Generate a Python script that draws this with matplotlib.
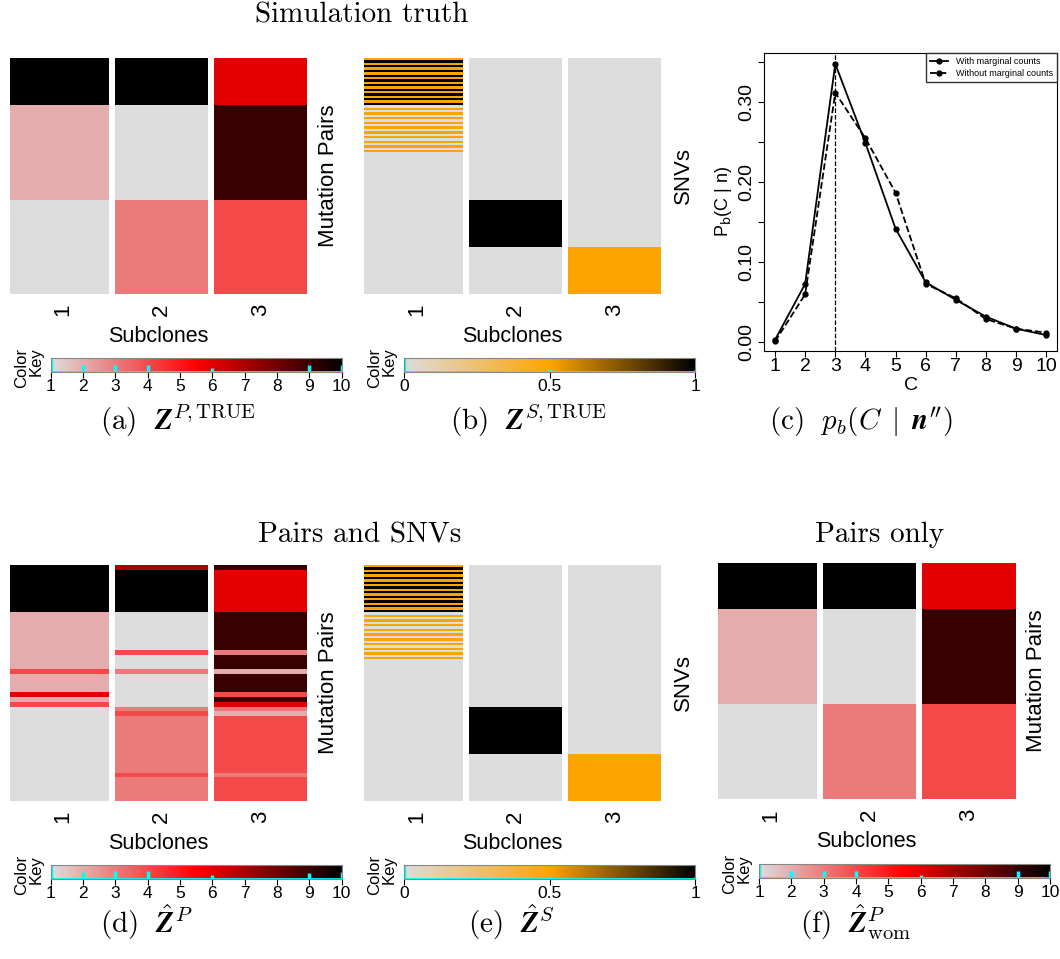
import numpy as np
import matplotlib
matplotlib.use('Agg')
import matplotlib.pyplot as plt
from matplotlib.colors import LinearSegmentedColormap

plt.rcParams['font.family'] = ['Liberation Sans', 'DejaVu Sans']
plt.rcParams['mathtext.fontset'] = 'cm'

W, H = 1060, 959

# --- mutation-pair matrices, one list per subclone (rows top to bottom) ---
zp_true_1 = [10] * 10 + [2] * 20 + [1] * 20
zp_true_2 = [10] * 10 + [1] * 20 + [3] * 20
zp_true_3 = [6] * 10 + [9] * 20 + [4] * 20

zp_hat_1 = [10] * 10 + [2] * 12 + [4] + [2] * 4 + [6, 2, 4] + [1] * 20
zp_hat_2 = [7] + [10] * 9 + [1] * 8 + [4] + [1] * 3 + [3] + [1] * 7 + [3, 4] + [3] * 12 + [4] + [3] * 5
zp_hat_3 = [9] + [6] * 9 + [9] * 8 + [3] + [9] * 3 + [2] + [9] * 4 + [4, 9, 6] + [3, 2] + [4] * 12 + [3] + [4] * 5

zp_wom_1 = [10] * 10 + [2] * 20 + [1] * 20
zp_wom_2 = [10] * 10 + [1] * 20 + [3] * 20
zp_wom_3 = [6] * 10 + [9] * 20 + [4] * 20

# --- SNV matrices ---
snv_stripe_a = [0.5, 1, 0.5, 1, 0.5, 1, 0.5, 1, 0.5, 1, 0.5, 1, 0.5, 1, 0.5, 1, 0.5, 1, 0.5, 1]
snv_stripe_b = [0, 0.5, 0, 0.5, 0, 0.5, 0, 0.5, 0, 0.5, 0, 0.5, 0, 0.5, 0, 0.5, 0, 0.5, 0, 0.5]
zs_true_1 = snv_stripe_a + snv_stripe_b + [0] * 60
zs_true_2 = [0] * 60 + [1] * 20 + [0] * 20
zs_true_3 = [0] * 80 + [0.5] * 20

zs_hat_1 = snv_stripe_a + snv_stripe_b + [0] * 60
zs_hat_2 = [0] * 60 + [1] * 20 + [0] * 20
zs_hat_3 = [0] * 80 + [0.5] * 20

# --- posterior of number of subclones C ---
C_vals = [1, 2, 3, 4, 5, 6, 7, 8, 9, 10]
p_with = [0.003, 0.073, 0.348, 0.249, 0.142, 0.075, 0.053, 0.032, 0.017, 0.009]
p_without = [0.001, 0.060, 0.312, 0.255, 0.187, 0.073, 0.055, 0.029, 0.017, 0.012]

subclone_labels = ['1', '2', '3']
pair_ticks = [1, 2, 3, 4, 5, 6, 7, 8, 9, 10]
snv_ticks = [0, 0.5, 1]
snv_ticklabels = ['0', '0.5', '1']

cmap_pairs = LinearSegmentedColormap.from_list('pairs', ['#DDDDDD', '#FF0000', '#000000'])
cmap_snv = LinearSegmentedColormap.from_list('snv', ['#DDDDDD', '#FFA500', '#000000'])

fig = plt.figure(figsize=(W / 100, H / 100), dpi=100)


def px_axes(x0, y0, x1, y1):
    return fig.add_axes([x0 / W, 1 - y1 / H, (x1 - x0) / W, (y1 - y0) / H])


def heatmap(box, cols, cmap, vmin, vmax, side_label):
    x0, y0, x1, y1 = box
    ax = px_axes(x0, y0, x1, y1)
    mat = np.column_stack(cols)
    n = mat.shape[0]
    ax.imshow(mat, cmap=cmap, vmin=vmin, vmax=vmax, aspect='auto',
              interpolation='nearest', extent=(0, 3, n, 0))
    # white separators between subclones
    sep = 6 / ((x1 - x0) / 3)
    for c in (1, 2):
        ax.axvspan(c, c + sep, color='white', lw=0)
    ax.set_xlim(0, 3)
    ax.set_ylim(n, 0)
    ax.set_yticks([])
    ax.set_xticks([0.5 + sep / 2, 1.5 + sep / 2, 2.5 + sep / 2], subclone_labels,
                  rotation=90, fontsize=16)
    ax.tick_params(axis='x', length=0, pad=7)
    for s in ax.spines.values():
        s.set_visible(False)
    ax.set_xlabel('Subclones', fontsize=15.5, labelpad=7)
    fig.text((x1 + 22) / W, 1 - ((y0 + y1) / 2) / H, side_label, rotation=90,
             ha='center', va='center', fontsize=16)
    return ax


def color_key(box, cmap, vmin, vmax, ticks, ticklabels, values):
    x0, y0, x1, y1 = box
    ax = px_axes(x0, y0, x1, y1)
    grad = np.linspace(vmin, vmax, 256)[None, :]
    ax.imshow(grad, cmap=cmap, vmin=vmin, vmax=vmax, aspect='auto',
              extent=(vmin, vmax, 0, 1))
    vals, counts = np.unique(values, return_counts=True)
    ax.vlines(vals, 0, counts / counts.max(), color='cyan', lw=2.5)
    ax.axhline(0, color='cyan', lw=2)
    ax.set_xlim(vmin, vmax)
    ax.set_ylim(0, 1)
    ax.set_yticks([])
    ax.set_xticks(ticks, ticklabels)
    ax.tick_params(axis='x', length=4, pad=1, labelsize=12.5)
    for s in ax.spines.values():
        s.set_color('#888888')
    fig.text((x0 - 22) / W, 1 - ((y0 + y1) / 2 + 3) / H, 'Color\nKey', rotation=90,
             ha='center', va='center', multialignment='right', fontsize=12,
             linespacing=0.95)
    return ax


def caption(x, y, s):
    fig.text(x / W, 1 - y / H, s, ha='left', va='baseline', fontsize=21)


def title(x, y, s):
    fig.text(x / W, 1 - y / H, s, ha='center', va='center', fontsize=21, family='cmr10')


# top row
pairs_true = zp_true_1 + zp_true_2 + zp_true_3
heatmap((10, 57.7, 307, 293.7), [zp_true_1, zp_true_2, zp_true_3], cmap_pairs, 1, 10, 'Mutation Pairs')
color_key((50.7, 357.7, 341.7, 371.7), cmap_pairs, 1, 10, pair_ticks, [str(t) for t in pair_ticks], pairs_true)

snv_true = zs_true_1 + zs_true_2 + zs_true_3
heatmap((364, 57.7, 661, 293.7), [zs_true_1, zs_true_2, zs_true_3], cmap_snv, 0, 1, 'SNVs')
color_key((404.3, 357.7, 695, 371.7), cmap_snv, 0, 1, snv_ticks, snv_ticklabels, snv_true)

# posterior over C
ax = px_axes(764, 52.7, 1057.3, 350.7)
ax.plot(C_vals, p_with, color='black', ls='-', lw=1.3, marker='o', ms=3.5, label='With marginal counts')
ax.plot(C_vals, p_without, color='black', ls='--', lw=1.3, marker='o', ms=3.5, label='Without marginal counts')
ax.axvline(3, color='black', ls='--', lw=0.9)
ax.set_xlim(0.635, 10.365)
ax.set_ylim(-0.0105, 0.362)
ax.set_xticks(C_vals)
yt = [0.0, 0.05, 0.10, 0.15, 0.20, 0.25, 0.30, 0.35]
ax.set_yticks(yt, ['0.00', '', '0.10', '', '0.20', '', '0.30', ''])
ax.tick_params(axis='both', labelsize=14, direction='out', length=4.5)
ax.tick_params(axis='x', pad=1)
ax.tick_params(axis='y', pad=2)
for lab in ax.get_yticklabels():
    lab.set_rotation(90)
    lab.set_va('center')
ax.set_xlabel('C', fontsize=14, labelpad=1)
ax.set_ylabel(r'P$_\mathrm{b}$(C | n)', fontsize=13, labelpad=3, math_fontfamily='dejavusans')
leg = ax.legend(loc='upper right', borderaxespad=0, fancybox=False, edgecolor='#333333',
                fontsize=6.5, handlelength=2.0, framealpha=1, borderpad=0.5, labelspacing=0.3,
                handletextpad=0.8)
leg.get_frame().set_linewidth(1)

# bottom row
pairs_hat = zp_hat_1 + zp_hat_2 + zp_hat_3
heatmap((10, 565, 307, 800.7), [zp_hat_1, zp_hat_2, zp_hat_3], cmap_pairs, 1, 10, 'Mutation Pairs')
color_key((50.7, 865, 341.7, 879), cmap_pairs, 1, 10, pair_ticks, [str(t) for t in pair_ticks], pairs_hat)

snv_hat = zs_hat_1 + zs_hat_2 + zs_hat_3
heatmap((364, 565, 661, 800.7), [zs_hat_1, zs_hat_2, zs_hat_3], cmap_snv, 0, 1, 'SNVs')
color_key((404.3, 865, 695, 879), cmap_snv, 0, 1, snv_ticks, snv_ticklabels, snv_hat)

pairs_wom = zp_wom_1 + zp_wom_2 + zp_wom_3
heatmap((717.7, 562.7, 1015, 799.3), [zp_wom_1, zp_wom_2, zp_wom_3], cmap_pairs, 1, 10, 'Mutation Pairs')
color_key((759, 864, 1050, 878), cmap_pairs, 1, 10, pair_ticks, [str(t) for t in pair_ticks], pairs_wom)

# titles and captions
title(362, 15, 'Simulation truth')
title(360, 535, 'Pairs and SNVs')
title(880, 535, 'Pairs only')

caption(100, 430, r'$\mathrm{(a)}\ \ \mathbfit{Z}^{P,\mathrm{TRUE}}$')
caption(450, 430, r'$\mathrm{(b)}\ \ \mathbfit{Z}^{S,\mathrm{TRUE}}$')
caption(769, 430, r'$\mathrm{(c)}\ \ p_b(C\;\mid\;\mathbfit{n}^{\prime\prime})$')
caption(100, 933, r'$\mathrm{(d)}\ \ \hat{\mathbfit{Z}}^{P}$')
caption(468, 933, r'$\mathrm{(e)}\ \ \hat{\mathbfit{Z}}^{S}$')
caption(800, 933, r'$\mathrm{(f)}\ \ \hat{\mathbfit{Z}}^{P}_{\mathrm{wom}}$')

fig.savefig('out.png', dpi=100)
